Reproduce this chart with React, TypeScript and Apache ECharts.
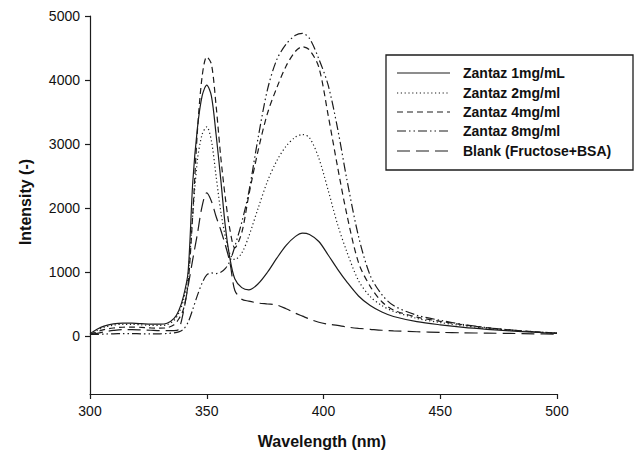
import { useEffect, useRef } from "react";
import * as echarts from "echarts";

const wavelengths = [300, 303, 306, 310, 314, 318, 322, 326, 330, 333, 336, 338, 340, 342, 344, 346, 348, 350, 352, 354, 356, 358, 360, 362, 365, 368, 372, 376, 380, 384, 388, 391, 394, 398, 402, 406, 410, 415, 420, 425, 430, 440, 450, 460, 470, 480, 490, 500];

const zantaz1 = [40, 110, 160, 195, 207, 205, 198, 190, 190, 205, 280, 400, 620, 1000, 2400, 3250, 3750, 3920, 3750, 3150, 2450, 1700, 1200, 900, 760, 725, 820, 1000, 1220, 1420, 1560, 1612, 1590, 1480, 1270, 1050, 850, 630, 480, 380, 310, 230, 180, 140, 110, 85, 65, 45];
const zantaz2 = [30, 90, 140, 175, 188, 188, 180, 172, 170, 182, 250, 360, 560, 950, 1900, 2750, 3150, 3270, 3050, 2500, 1950, 1550, 1280, 1200, 1300, 1560, 2000, 2420, 2740, 2970, 3110, 3150, 3100, 2780, 2280, 1750, 1320, 870, 620, 480, 390, 280, 215, 165, 125, 95, 70, 50];
const zantaz4 = [30, 70, 105, 130, 142, 145, 140, 132, 128, 135, 180, 270, 420, 820, 1900, 3200, 4050, 4364, 4250, 3600, 2800, 2150, 1650, 1380, 1620, 2200, 2900, 3480, 3880, 4220, 4450, 4520, 4470, 4200, 3450, 2650, 1900, 1150, 780, 540, 410, 300, 235, 180, 135, 100, 72, 50];
const zantaz8 = [30, 30, 35, 40, 42, 42, 40, 40, 40, 45, 55, 70, 110, 220, 420, 640, 830, 960, 990, 980, 1000, 1060, 1180, 1400, 1780, 2250, 3100, 3850, 4320, 4560, 4700, 4730, 4650, 4330, 3920, 3250, 2450, 1560, 950, 650, 480, 330, 250, 185, 135, 100, 72, 50];
const blank = [30, 45, 70, 92, 105, 105, 100, 95, 90, 90, 90, 110, 380, 780, 1200, 1600, 2030, 2240, 2110, 1870, 1660, 1420, 1140, 720, 580, 550, 520, 505, 490, 430, 360, 315, 270, 220, 190, 170, 145, 125, 110, 95, 85, 72, 62, 55, 50, 45, 40, 35];

const seriesNames = ["Zantaz 1mg/mL", "Zantaz 2mg/ml", "Zantaz 4mg/ml", "Zantaz 8mg/ml", "Blank (Fructose+BSA)"];
const seriesValues = [zantaz1, zantaz2, zantaz4, zantaz8, blank];

const yTicks = [0, 1000, 2000, 3000, 4000, 5000];
const xMin = 300;
const xMax = 500;
const xStep = 50;
const yMin = -900;
const yMax = 5000;

const LINE = "#1c1c1c";
const FONT = "'Liberation Sans', Arial, Helvetica, sans-serif";
const dashStyles: any[] = ["solid", [1.2, 2.6], [6, 4], [9, 3, 1.5, 3, 1.5, 3], [13, 6]];
const zrDashes: any[] = [null, [1.2, 2.6], [6, 4], [9, 3, 1.5, 3, 1.5, 3], [13, 6]];

export default function App() {
  const ref = useRef<HTMLDivElement>(null);

  useEffect(() => {
    if (!ref.current) return;
    const chart = echarts.init(ref.current, undefined, { renderer: "svg" });

    const series = seriesNames.map((name, i) => ({
      name,
      type: "line",
      showSymbol: false,
      smooth: 0.3,
      data: wavelengths.map((w, j) => [w, seriesValues[i][j]]),
      lineStyle: { color: LINE, width: 1.2, type: dashStyles[i] },
      z: 5 - i,
    }));

    const legendX = 386;
    const legendY = 55;
    const rowY = [73, 93, 112, 131, 151];
    const legendGraphics: any[] = [
      {
        type: "rect",
        shape: { x: legendX, y: legendY, width: 247, height: 115 },
        style: { fill: "#fff", stroke: LINE, lineWidth: 1.3 },
        z: 10,
      },
    ];
    seriesNames.forEach((name, i) => {
      legendGraphics.push({
        type: "line",
        shape: { x1: 397, y1: rowY[i], x2: 450, y2: rowY[i] },
        style: { stroke: LINE, lineWidth: 1.2, lineDash: zrDashes[i] || undefined },
        z: 11,
      });
      legendGraphics.push({
        type: "text",
        x: 463,
        y: rowY[i],
        style: {
          text: name,
          fill: "#111",
          font: `bold 14px ${FONT}`,
          verticalAlign: "middle",
          align: "left",
        },
        z: 11,
      });
    });

    chart.setOption({
      animation: false,
      backgroundColor: "#fff",
      grid: { left: 90, right: 79, top: 16, bottom: 63, containLabel: false },
      xAxis: {
        type: "value",
        min: xMin,
        max: xMax,
        interval: xStep,
        axisLine: { show: true, onZero: false, lineStyle: { color: LINE, width: 1.2 } },
        axisTick: { show: true, length: 5, lineStyle: { color: LINE, width: 1.2 } },
        axisLabel: { color: "#111", fontSize: 14, fontFamily: FONT, margin: 10, formatter: (v: number) => String(v) },
        splitLine: { show: false },
      },
      yAxis: {
        type: "value",
        min: yMin,
        max: yMax,
        axisLine: { show: true, onZero: false, lineStyle: { color: LINE, width: 1.2 } },
        axisTick: { show: true, length: 5, customValues: yTicks, lineStyle: { color: LINE, width: 1.2 } },
        axisLabel: {
          color: "#111",
          fontSize: 14,
          fontFamily: FONT,
          margin: 10,
          customValues: yTicks,
          formatter: (v: number) => String(v),
        },
        splitLine: { show: false },
      },
      series,
      graphic: [
        ...legendGraphics,
        {
          type: "text",
          x: 322,
          y: 441,
          style: {
            text: "Wavelength (nm)",
            fill: "#111",
            font: `bold 16px ${FONT}`,
            align: "center",
            verticalAlign: "middle",
          },
        },
        {
          type: "text",
          x: 25,
          y: 202,
          rotation: Math.PI / 2,
          style: {
            text: "Intensity (-)",
            fill: "#111",
            font: `bold 16px ${FONT}`,
            align: "center",
            verticalAlign: "middle",
          },
        },
      ],
    });

    return () => chart.dispose();
  }, []);

  return (
    <div
      ref={ref}
      style={{ position: "fixed", left: 0, top: 0, width: 636, height: 457, background: "#fff" }}
    />
  );
}
